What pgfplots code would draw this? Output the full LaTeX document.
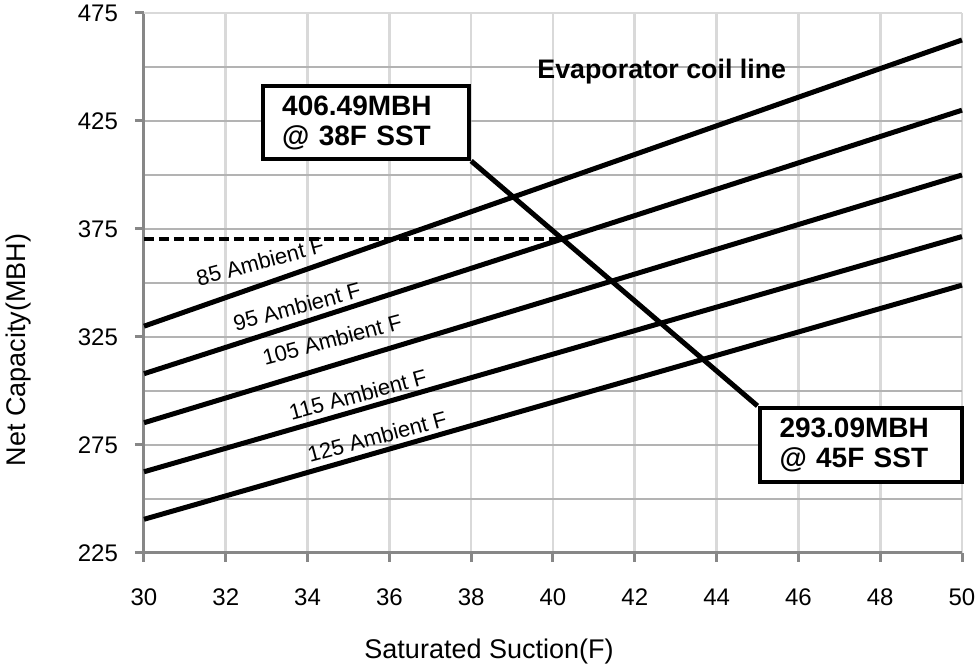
\documentclass[border=0pt]{standalone}
\usepackage{fontspec}
\setmainfont{Liberation Sans}
\usepackage{pgfplots}
\pgfplotsset{compat=1.18}
\definecolor{hgrid}{HTML}{B3B3B3}
\definecolor{vgrid}{HTML}{D9D9D9}
\definecolor{axline}{HTML}{878787}
\begin{document}
\begin{tikzpicture}
\begin{axis}[
  scale only axis, width=409pt, height=270pt,
  xmin=30, xmax=50, ymin=225, ymax=475,
  xtick={30,32,...,50},
  ytick={225,275,...,475},
  minor ytick={250,300,...,450},
  axis x line*=bottom, axis y line*=left,
  axis line style={axline, line width=1.5pt, -},
  tick style={axline, line width=1.5pt},
  tick align=outside, major tick length=4.5pt, minor tick length=0pt,
  xmajorgrids, ymajorgrids, yminorgrids,
  x grid style={vgrid, line width=1.3pt},
  y grid style={hgrid, line width=1.3pt},
  /pgf/number format/assume math mode=true,
  ticklabel style={font=\fontsize{12}{14}\selectfont},
  xticklabel style={yshift=-10pt},
  yticklabel style={xshift=-5pt},
  xlabel={Saturated Suction(F)},
  ylabel={Net Capacity(MBH)},
  label style={font=\fontsize{13.5}{15}\selectfont},
  xlabel style={at={(axis description cs:0.4218,-0.1833)}, anchor=center},
  ylabel style={at={(axis description cs:-0.154,0.376)}, anchor=center},
  clip=false,
]
% top edge of the grid
\draw[vgrid, line width=1.3pt] (rel axis cs:0,1) -- (rel axis cs:1,1);

% ambient lines
\addplot[black, line width=2.5pt] coordinates {(30,330.0) (50,462.5)};
\addplot[black, line width=2.5pt] coordinates {(30,308.0) (50,430.0)};
\addplot[black, line width=2.5pt] coordinates {(30,285.3) (50,400.0)};
\addplot[black, line width=2.5pt] coordinates {(30,262.6) (50,371.5)};
\addplot[black, line width=2.5pt] coordinates {(30,240.6) (50,349.0)};

% 85F operating point
\addplot[black, line width=2pt, dash pattern=on 5pt off 2.5pt] coordinates {(30,370.4) (40.2,370.4)};

% evaporator coil line
\addplot[black, line width=2.5pt] coordinates {(38,406.49) (45,293.09)};

\begin{scope}[font=\fontsize{11}{13}\selectfont]
\node[rotate=15] at (axis cs:32.84,359.9) {85 Ambient F};
\node[rotate=15] at (axis cs:33.74,339.1) {95 Ambient F};
\node[rotate=15] at (axis cs:34.60,323.8) {105 Ambient F};
\node[rotate=15] at (axis cs:35.23,298.3) {115 Ambient F};
\node[rotate=15] at (axis cs:35.70,278.9) {125 Ambient F};
\end{scope}

\node[font=\bfseries\fontsize{13.4}{15}\selectfont] at (axis cs:42.66,447.7) {Evaporator coil line};

\node[draw=black, line width=2pt, fill=white, anchor=south east,
  minimum width=103pt, minimum height=36.5pt, inner xsep=9.5pt,
  text width=84pt, align=left, font=\bfseries\fontsize{14}{15}\selectfont]
  at (axis cs:38,406.49) {406.49MBH\\@ 38F SST};
\node[draw=black, line width=2pt, fill=white, anchor=north west,
  minimum width=101pt, minimum height=37pt, inner xsep=10pt,
  text width=81pt, align=left, font=\bfseries\fontsize{14}{15}\selectfont]
  at (axis cs:45,293.09) {293.09MBH\\@ 45F SST};
\end{axis}
\pgfresetboundingbox
\path[use as bounding box] ([xshift=-72pt,yshift=-56.5pt]current axis.south west) rectangle ([xshift=7pt,yshift=6.5pt]current axis.north east);
\end{tikzpicture}
\end{document}
